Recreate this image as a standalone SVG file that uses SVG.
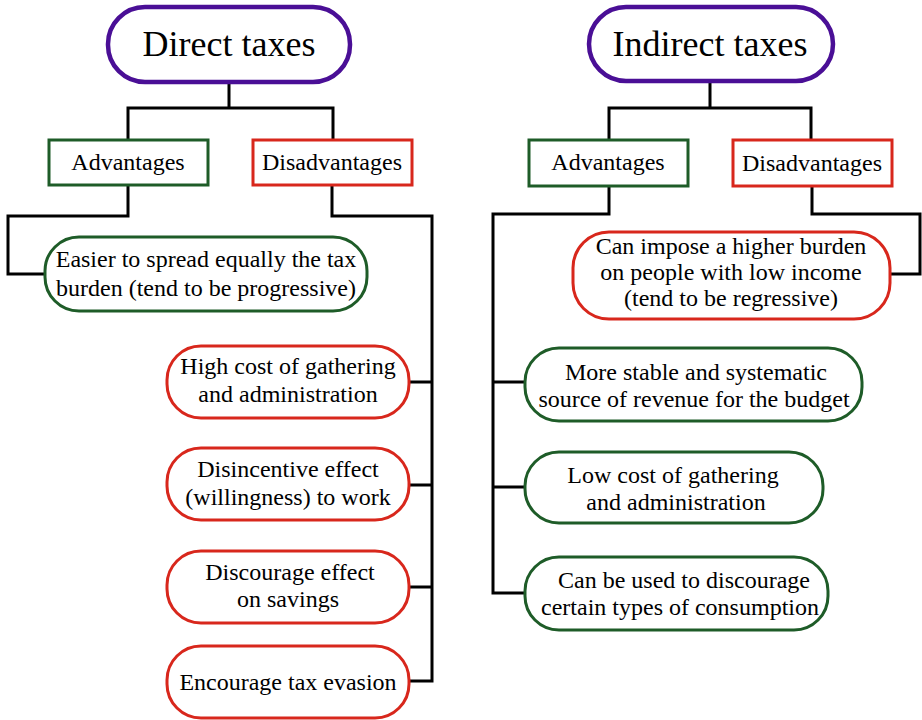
<svg xmlns="http://www.w3.org/2000/svg" width="922" height="720" viewBox="0 0 922 720">
<style>
.t{font-family:"Liberation Serif","Times New Roman",serif;fill:#000;text-anchor:middle}
.h{font-size:36px}
.s{font-size:24px}
.top{fill:#fff;stroke:#4a0f96;stroke-width:4.5}
.g{fill:#fff;stroke:#1e5c28;stroke-width:3}
.r{fill:#fff;stroke:#d8271c;stroke-width:3}
.c{fill:none;stroke:#000;stroke-width:3}
</style>
<rect width="922" height="720" fill="#fff"/>
<g id="connectors">
<path class="c" d="M229 82V108M128 139V108H333V139"/>
<path class="c" d="M128 185V216H8V274H45"/>
<path class="c" d="M332 185V216H432V681H409M432 382H409M432 485H409M432 587H409"/>
<path class="c" d="M710 81V108M609 140V108H811V140"/>
<path class="c" d="M609 186V214H493V593H525M493 382H525M493 487H525"/>
<path class="c" d="M812 186V214H920V274H890"/>
</g>
<g id="direct">
<rect class="top" x="108" y="7" width="242" height="75" rx="37"/>
<text class="t h" x="229" y="56">Direct taxes</text>
</g>
<g id="d-adv">
<rect class="g" x="49" y="140" width="159" height="45"/>
<text class="t s" x="128" y="170">Advantages</text>
</g>
<g id="d-dis">
<rect class="r" x="253" y="140" width="159" height="45"/>
<text class="t s" x="332" y="170">Disadvantages</text>
</g>
<g id="d-adv1">
<rect class="g" x="45" y="237" width="322" height="74" rx="34"/>
<text class="t s" x="206" y="267">Easier to spread equally the tax</text>
<text class="t s" x="206" y="296">burden (tend to be progressive)</text>
</g>
<g id="d-dis1">
<rect class="r" x="167" y="346" width="242" height="72" rx="34"/>
<text class="t s" x="288" y="374">High cost of gathering</text>
<text class="t s" x="288" y="402">and administration</text>
</g>
<g id="d-dis2">
<rect class="r" x="167" y="448" width="242" height="72" rx="34"/>
<text class="t s" x="288" y="477">Disincentive effect</text>
<text class="t s" x="288" y="505">(willingness) to work</text>
</g>
<g id="d-dis3">
<rect class="r" x="167" y="551" width="242" height="72" rx="34"/>
<text class="t s" x="290" y="580">Discourage effect</text>
<text class="t s" x="288" y="607">on savings</text>
</g>
<g id="d-dis4">
<rect class="r" x="167" y="646" width="242" height="72" rx="34"/>
<text class="t s" x="288" y="690">Encourage tax evasion</text>
</g>
<g id="indirect">
<rect class="top" x="589" y="7" width="244" height="74" rx="37"/>
<text class="t h" x="710" y="56">Indirect taxes</text>
</g>
<g id="i-adv">
<rect class="g" x="529" y="140" width="159" height="46"/>
<text class="t s" x="608" y="170">Advantages</text>
</g>
<g id="i-dis">
<rect class="r" x="733" y="140" width="159" height="46"/>
<text class="t s" x="812" y="171">Disadvantages</text>
</g>
<g id="i-dis1">
<rect class="r" x="573" y="232" width="317" height="87" rx="36"/>
<text class="t s" x="731" y="254">Can impose a higher burden</text>
<text class="t s" x="731" y="280">on people with low income</text>
<text class="t s" x="731" y="306">(tend to be regressive)</text>
</g>
<g id="i-adv1">
<rect class="g" x="525" y="348" width="337" height="73" rx="34"/>
<text class="t s" x="696" y="380">More stable and systematic</text>
<text class="t s" x="694" y="407">source of revenue for the budget</text>
</g>
<g id="i-adv2">
<rect class="g" x="525" y="452" width="298" height="71" rx="34"/>
<text class="t s" x="673" y="483">Low cost of gathering</text>
<text class="t s" x="676" y="510">and administration</text>
</g>
<g id="i-adv3">
<rect class="g" x="525" y="557" width="303" height="73" rx="34"/>
<text class="t s" x="684" y="588">Can be used to discourage</text>
<text class="t s" x="680" y="615">certain types of consumption</text>
</g>
</svg>
